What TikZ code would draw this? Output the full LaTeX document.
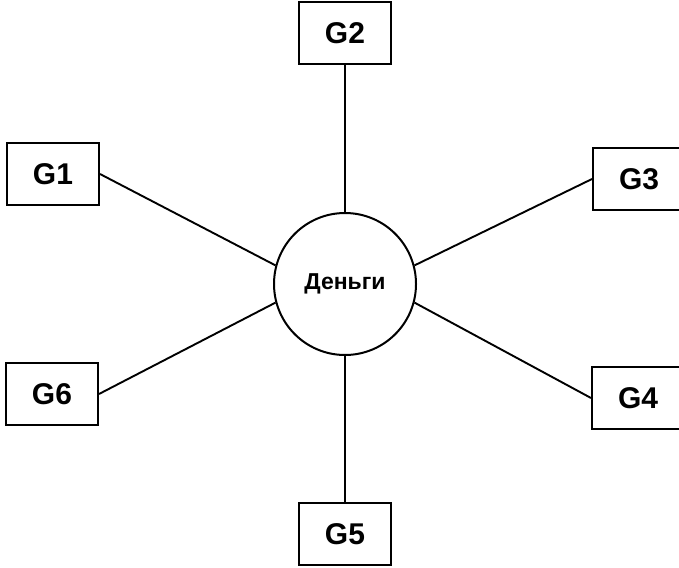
\documentclass[tikz,border=0pt]{standalone}
\usepackage{fontspec}
\setmainfont{Liberation Sans}
\usetikzlibrary{positioning}

\begin{document}
\begin{tikzpicture}[x=1pt,y=-1pt,
    gbox/.style={draw, line width=2pt, minimum width=92pt, minimum height=62pt,
      inner sep=0pt, font=\bfseries\fontsize{30}{34}\selectfont},
    hub/.style={draw, circle, line width=2pt, minimum size=142pt,
      inner sep=0pt, font=\bfseries\fontsize{23}{27}\selectfont},
    link/.style={line width=1.9pt}]
    \useasboundingbox (0,0) rectangle (679,567);
    % the money in the middle
    \node[hub] (money) at (345,284) {Деньги};
    % the goods round it
    \node[gbox] (g2) at (345,33) {G2};
    \node[gbox] (g1) at (53,174) {G1};
    \node[gbox] (g3) at (639,179) {G3};
    \node[gbox] (g6) at (52,394) {G6};
    \node[gbox] (g4) at (638,398) {G4};
    \node[gbox] (g5) at (345,534) {G5};
    % now the links
    \draw[link] (g2.south) -- (money.north)
                (g5.north) -- (money.south)
                (g1.east) -- (money.165)
                (g6.east) -- (money.195)
                (g3.west) -- (money.15)
                (g4.west) -- (money.-15);
\end{tikzpicture}
\end{document}
